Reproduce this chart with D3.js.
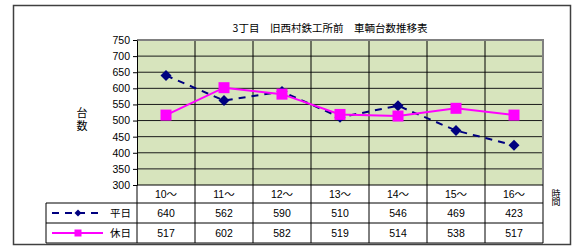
<!DOCTYPE html>
<html>
<head>
<meta charset="utf-8">
<script src="https://cdn.jsdelivr.net/npm/d3@7"></script>
<style>
  body { margin: 0; background: #fff; }
  text { font-family: "Liberation Sans", Arial, "Noto Sans CJK JP", sans-serif; fill: #000; }
</style>
</head>
<body>
<div id="container"></div>
<script>
const categories = ["10～", "11～", "12～", "13～", "14～", "15～", "16～"];
const weekday = [640, 562, 590, 510, 546, 469, 423];
const holiday = [517, 602, 582, 519, 514, 538, 517];
const yTicks = [300, 350, 400, 450, 500, 550, 600, 650, 700, 750];
const seriesNames = ["平日", "休日"];
const title = "3丁目　旧西村鉄工所前　車輌台数推移表";

const width = 575, height = 246;
const plot = { left: 137, right: 543, top: 40, bottom: 185 };
const rowH = [185, 203, 223, 243];
const legendLeft = 46;

const svg = d3.select("#container").append("svg")
    .attr("width", width)
    .attr("height", height);

// outer frame
svg.append("rect")
    .attr("x", 13.5).attr("y", 5.5)
    .attr("width", 557).attr("height", 239)
    .attr("fill", "#fff")
    .attr("stroke", "#404040")
    .attr("stroke-width", 1.5);

const x = d3.scaleBand().domain(categories).range([plot.left, plot.right]).padding(0);
const y = d3.scaleLinear().domain([300, 750]).range([plot.bottom, plot.top]);
const cx = d => x(d) + x.bandwidth() / 2;

// plot background
svg.append("rect")
    .attr("x", plot.left).attr("y", plot.top)
    .attr("width", plot.right - plot.left).attr("height", plot.bottom - plot.top)
    .attr("fill", "#D7E4BD");

// horizontal grid
svg.append("g").selectAll("line")
    .data(yTicks.filter(v => v > 300 && v < 750))
    .join("line")
    .attr("x1", plot.left).attr("x2", plot.right)
    .attr("y1", d => y(d)).attr("y2", d => y(d))
    .attr("stroke", "#1a1a1a").attr("stroke-width", 1);

// vertical category lines (through plot and table)
svg.append("g").selectAll("line")
    .data(categories.slice(1))
    .join("line")
    .attr("x1", d => x(d)).attr("x2", d => x(d))
    .attr("y1", plot.top).attr("y2", rowH[3])
    .attr("stroke", "#000").attr("stroke-width", 1);

// plot top / right border (gray)
svg.append("path")
    .attr("d", `M${plot.left},${plot.top}H${plot.right}V${plot.bottom}`)
    .attr("fill", "none")
    .attr("stroke", "#808080")
    .attr("stroke-width", 2);

// y axis
const yAxis = svg.append("g")
    .attr("transform", `translate(${plot.left},0)`)
    .call(d3.axisLeft(y).tickValues(yTicks).tickSize(4).tickSizeOuter(0));
yAxis.select(".domain").attr("stroke", "#000");
yAxis.selectAll(".tick line").attr("stroke", "#000");
yAxis.selectAll(".tick text")
    .attr("x", -7)
    .style("font-size", "10.5px")
    .style("font-family", "Liberation Sans, Arial, sans-serif");

// table lines
const tbl = svg.append("g").attr("stroke", "#000").attr("stroke-width", 1);
tbl.append("line").attr("x1", plot.left).attr("x2", plot.left).attr("y1", plot.bottom).attr("y2", rowH[3]);
tbl.append("line").attr("x1", plot.right).attr("x2", plot.right).attr("y1", plot.bottom).attr("y2", rowH[3]);
tbl.append("line").attr("x1", legendLeft).attr("x2", legendLeft).attr("y1", rowH[1]).attr("y2", rowH[3]);
tbl.append("line").attr("x1", plot.left).attr("x2", plot.right).attr("y1", plot.bottom).attr("y2", plot.bottom);
[rowH[1], rowH[2], rowH[3]].forEach(v => {
    tbl.append("line").attr("x1", legendLeft).attr("x2", plot.right).attr("y1", v).attr("y2", v);
});

// category header
svg.append("g").selectAll("text")
    .data(categories)
    .join("text")
    .attr("x", d => cx(d))
    .attr("y", (rowH[0] + rowH[1]) / 2 + 4)
    .attr("text-anchor", "middle")
    .style("font-size", "10.5px")
    .text(d => d);

// series
const series = [
    { name: seriesNames[0], values: weekday, color: "#000080", dash: "7,6", marker: "diamond" },
    { name: seriesNames[1], values: holiday, color: "#FF00FF", dash: null, marker: "square" }
];

const line = d3.line()
    .x((d, i) => cx(categories[i]))
    .y(d => y(d));

function drawMarker(g, type, px, py, size, color) {
    if (type === "diamond") {
        const s = size / 2;
        g.append("path")
            .attr("d", `M${px},${py - s}L${px + s},${py}L${px},${py + s}L${px - s},${py}Z`)
            .attr("fill", color);
    } else {
        g.append("rect")
            .attr("x", px - size / 2).attr("y", py - size / 2)
            .attr("width", size).attr("height", size)
            .attr("fill", color);
    }
}

series.forEach((s, si) => {
    const g = svg.append("g");
    g.append("path")
        .attr("d", line(s.values))
        .attr("fill", "none")
        .attr("stroke", s.color)
        .attr("stroke-width", 2)
        .attr("stroke-dasharray", s.dash);
    s.values.forEach((v, i) => {
        drawMarker(g, s.marker, cx(categories[i]), y(v), 11, s.color);
    });

    // table values
    const ry = (rowH[si + 1] + rowH[si + 2]) / 2 + 4;
    svg.append("g").selectAll("text")
        .data(s.values)
        .join("text")
        .attr("x", (d, i) => cx(categories[i]))
        .attr("y", ry)
        .attr("text-anchor", "middle")
        .style("font-size", "10.5px")
        .text(d => d);

    // legend
    const ly = (rowH[si + 1] + rowH[si + 2]) / 2;
    const lg = svg.append("g");
    lg.append("line")
        .attr("x1", 52).attr("x2", 103)
        .attr("y1", ly).attr("y2", ly)
        .attr("stroke", s.color)
        .attr("stroke-width", 2)
        .attr("stroke-dasharray", s.dash);
    drawMarker(lg, s.marker, 78, ly, 7, s.color);
    lg.append("text")
        .attr("x", 110).attr("y", ly + 4)
        .style("font-size", "10.5px")
        .style("font-family", "Noto Sans CJK JP, sans-serif")
        .text(s.name);
});

// title
svg.append("text")
    .attr("x", 330).attr("y", 32)
    .attr("text-anchor", "middle")
    .style("font-size", "10.5px")
    .style("font-family", "Noto Sans CJK JP, sans-serif")
    .text(title);

// axis titles, written vertically as one text each
function verticalText(str, px, py, size, spacing) {
    svg.append("text")
        .attr("x", px)
        .attr("y", py)
        .style("writing-mode", "vertical-rl")
        .style("text-orientation", "upright")
        .style("letter-spacing", spacing + "px")
        .style("font-size", size + "px")
        .style("font-family", "Noto Sans CJK JP, sans-serif")
        .text(str);
}
verticalText("台数", 82, 107, 11, 2);
verticalText("時間", 556, 189, 9, -1);
</script>
</body>
</html>
